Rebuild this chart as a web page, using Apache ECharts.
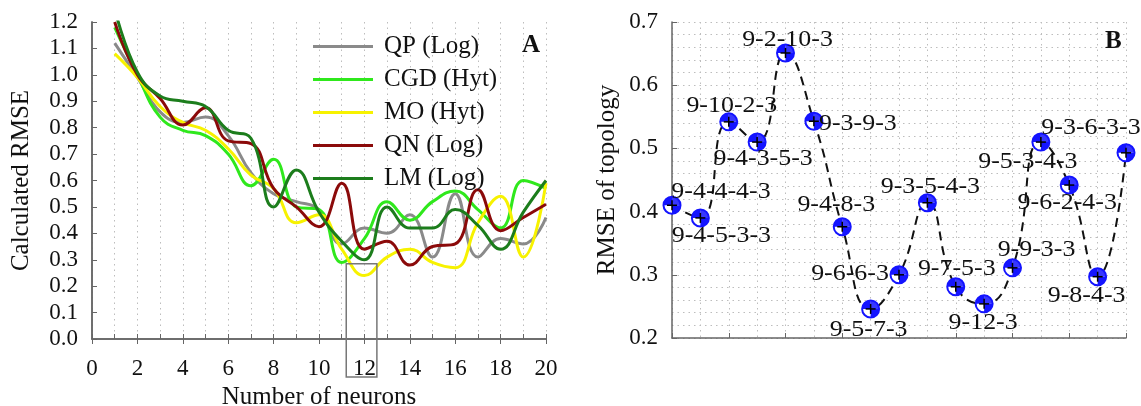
<!DOCTYPE html>
<html>
<head>
<meta charset="utf-8">
<script src="https://cdn.jsdelivr.net/npm/echarts@6/dist/echarts.min.js"></script>
<style>
html,body{margin:0;padding:0;background:#fff;}
#c{width:1141px;height:406px;}
</style>
</head>
<body>
<div id="c"></div>
<script>
// ---------- Data: panel A ----------
const neurons = [1,2,3,4,5,6,7,8,9,10,11,12,13,14,15,16,17,18,19,20];
const seriesNames = ['QP (Log)','CGD (Hyt)','MO (Hyt)','QN (Log)','LM (Log)'];
const qpLog  = [1.12,0.99,0.86,0.82,0.84,0.77,0.63,0.55,0.52,0.49,0.36,0.42,0.40,0.47,0.31,0.55,0.31,0.38,0.36,0.46];
const cgdHyt = [1.18,1.00,0.84,0.79,0.77,0.70,0.58,0.68,0.50,0.49,0.29,0.38,0.52,0.45,0.52,0.56,0.49,0.42,0.60,0.57];
const moHyt  = [1.08,0.99,0.88,0.82,0.79,0.72,0.62,0.57,0.44,0.47,0.34,0.24,0.31,0.34,0.29,0.27,0.44,0.54,0.31,0.59];
const qnLog  = [1.20,1.00,0.91,0.81,0.875,0.75,0.74,0.57,0.50,0.425,0.59,0.34,0.37,0.28,0.35,0.36,0.565,0.41,0.46,0.51];
const lmLog  = [1.25,1.01,0.92,0.90,0.88,0.79,0.76,0.50,0.64,0.48,0.37,0.30,0.50,0.42,0.42,0.49,0.43,0.34,0.48,0.60];
const xTicksA = [0,2,4,6,8,10,12,14,16,18,20];
const yTicksA = [0,0.1,0.2,0.3,0.4,0.5,0.6,0.7,0.8,0.9,1.0,1.1,1.2];
// highlighted region (neurons 11.2..12.55, below RMSE 0.285)
const boxRange = [11.2, 12.55];
const boxTop = 0.285;

// ---------- Data: panel B ----------
const topologies = ['9-4-4-4-3','9-4-5-3-3','9-10-2-3','9-4-3-5-3','9-2-10-3','9-3-9-3','9-4-8-3','9-5-7-3','9-6-6-3','9-3-5-4-3','9-7-5-3','9-12-3','9-9-3-3','9-5-3-4-3','9-6-2-4-3','9-8-4-3','9-3-6-3-3'];
const topologyRmse = [0.410,0.390,0.542,0.510,0.651,0.543,0.376,0.246,0.300,0.414,0.281,0.254,0.311,0.510,0.442,0.297,0.493];
const yTicksB = [0.2,0.3,0.4,0.5,0.6,0.7];

// ---------- Styling ----------
const FONT = "'Liberation Serif','Times New Roman',serif";
const colors = ['#8a8a8a','#2fe81c','#f7f200','#8b0a0a','#1c7d1c'];
const labelOffsets = [[49,-14],[21,18],[3,-16],[6,17],[2,-13],[44,2],[-6,-22],[-2,21],[-49,-1],[3,-16],[1,-18],[-1,19],[24,-18],[-13,20],[-2,18],[-11,19],[-35,-25]];
const BLUE = '#1414ff';

const chart = echarts.init(document.getElementById('c'), null, {renderer:'canvas'});

const seriesA = [qpLog, cgdHyt, moHyt, qnLog, lmLog].map((arr, i) => ({
  name: seriesNames[i],
  type: 'line',
  xAxisIndex: 0, yAxisIndex: 0,
  smooth: 0.45,
  symbol: 'none',
  clip: true,
  lineStyle: {width: 3, color: colors[i]},
  itemStyle: {color: colors[i]},
  data: neurons.map((n, k) => [n, arr[k]]),
  z: 3
}));

const axisTxt = {fontFamily: FONT, fontSize: 23, color: '#111'};
const gridLine = {show: true, lineStyle: {color: '#bdbdbd', type: [1.5, 4], width: 1}};

const option = {
  animation: false,
  backgroundColor: '#fff',
  title: [
    {text: 'A', left: 517, top: 28, textStyle: {fontFamily: FONT, fontSize: 25, fontWeight: 'bold', color: '#111'}},
    {text: 'B', left: 1100, top: 24, textStyle: {fontFamily: FONT, fontSize: 25, fontWeight: 'bold', color: '#111'}}
  ],
  legend: {
    data: seriesNames,
    orient: 'vertical',
    left: 308, top: 29,
    icon: 'rect',
    itemWidth: 60, itemHeight: 3,
    itemGap: 8,
    textStyle: {fontFamily: FONT, fontSize: 25, color: '#111', lineHeight: 24, padding: [0,0,0,6]},
    backgroundColor: 'transparent'
  },
  grid: [
    {left: 92, right: 595, top: 22, bottom: 67, outerBoundsMode: 'none', containLabel: false},
    {left: 672, right: 15, top: 22, bottom: 68, outerBoundsMode: 'none', containLabel: false}
  ],
  xAxis: [
    {
      type: 'value', gridIndex: 0, min: xTicksA[0], max: xTicksA[xTicksA.length-1], interval: 2,
      name: 'Number of neurons', nameLocation: 'middle', nameGap: 45,
      nameTextStyle: {fontFamily: FONT, fontSize: 25, color: '#111'},
      axisLine: {lineStyle: {color: '#666', width: 1.5}},
      axisTick: {show: true, inside: true, length: 5, lineStyle: {color: '#666'}},
      minorTick: {show: true, splitNumber: 2, length: 5, lineStyle: {color: '#666'}},
      axisLabel: Object.assign({margin: 18}, axisTxt),
      splitLine: gridLine,
      minorSplitLine: gridLine
    },
    {
      type: 'value', gridIndex: 0, position: 'top', min: 0, max: 20, interval: 2,
      axisLine: {show: true, lineStyle: {color: '#666', width: 1.5}},
      axisTick: {show: true, inside: true, length: 5, lineStyle: {color: '#666'}},
      axisLabel: {show: false}, splitLine: {show: false}
    },
    {
      type: 'category', gridIndex: 1, data: topologies, boundaryGap: false,
      axisLine: {lineStyle: {color: '#666', width: 1.5}},
      axisTick: {show: true, inside: true, length: 5, interval: 1, lineStyle: {color: '#666'}},
      axisLabel: {show: false},
      splitLine: {show: true, interval: 0, lineStyle: {color: '#bdbdbd', type: [1.5, 4], width: 1}}
    }
  ],
  yAxis: [
    {
      type: 'value', gridIndex: 0, min: yTicksA[0], max: yTicksA[yTicksA.length-1], interval: 0.1,
      name: 'Calculated RMSE', nameLocation: 'middle', nameGap: 58,
      nameTextStyle: {fontFamily: FONT, fontSize: 25, color: '#111'},
      axisLine: {show: true, lineStyle: {color: '#666', width: 1.5}},
      axisTick: {show: true, inside: true, length: 5, lineStyle: {color: '#666'}},
      axisLabel: Object.assign({margin: 14, formatter: v => v.toFixed(1)}, axisTxt),
      splitLine: {show: false}
    },
    {
      type: 'value', gridIndex: 0, position: 'right', min: 0, max: 1.2, interval: 0.1,
      axisLine: {show: true, lineStyle: {color: '#666', width: 1.5}},
      axisTick: {show: false}, axisLabel: {show: false}, splitLine: {show: false}
    },
    {
      type: 'value', gridIndex: 1, min: yTicksB[0], max: yTicksB[yTicksB.length-1], interval: 0.1,
      name: 'RMSE of topology', nameLocation: 'middle', nameGap: 52,
      nameTextStyle: {fontFamily: FONT, fontSize: 25, color: '#111'},
      axisLine: {show: true, lineStyle: {color: '#666', width: 1.5}},
      axisTick: {show: true, inside: true, length: 5, lineStyle: {color: '#666'}},
      axisLabel: Object.assign({margin: 14, formatter: v => v.toFixed(1)}, axisTxt),
      splitLine: gridLine,
      minorTick: {show: false, splitNumber: 5},
      minorSplitLine: gridLine
    }
  ],
  series: seriesA.concat([
    {
      type: 'custom', xAxisIndex: 0, yAxisIndex: 0, clip: false, silent: true, z: 5,
      data: [[boxRange[0], boxRange[1], boxTop]],
      renderItem: function (params, api) {
        const p1 = api.coord([api.value(0), api.value(2)]);
        const p2 = api.coord([api.value(1), 0]);
        return {
          type: 'rect',
          shape: {x: p1[0], y: p1[1], width: p2[0] - p1[0], height: (p2[1] - p1[1]) + 38},
          style: {fill: 'none', stroke: '#777', lineWidth: 1.5}
        };
      }
    },
    {
      name: 'topology', type: 'line', xAxisIndex: 2, yAxisIndex: 2,
      smooth: 0.5, clip: false, symbol: 'none',
      lineStyle: {color: '#111', width: 2, type: [9, 6]},
      data: topologyRmse,
      z: 3
    },
    {
      name: 'topologyMarkers', type: 'custom', xAxisIndex: 2, yAxisIndex: 2, clip: false, silent: true, z: 6,
      data: topologyRmse.map((v, i) => [i, v]),
      renderItem: function (params, api) {
        const idx = params.dataIndex;
        const c = api.coord([api.value(0), api.value(1)]);
        const r = 8.5;
        const off = labelOffsets[idx];
        return {
          type: 'group',
          children: [
            {type: 'circle', shape: {cx: c[0], cy: c[1], r: r}, style: {fill: '#fff', stroke: BLUE, lineWidth: 2}},
            {type: 'sector', shape: {cx: c[0], cy: c[1], r0: 0, r: r, startAngle: Math.PI, endAngle: Math.PI * 1.5}, style: {fill: BLUE}},
            {type: 'sector', shape: {cx: c[0], cy: c[1], r0: 0, r: r, startAngle: 0, endAngle: Math.PI * 0.5}, style: {fill: BLUE}},
            {type: 'sector', shape: {cx: c[0], cy: c[1], r0: 0, r: r, startAngle: Math.PI * 1.5, endAngle: Math.PI * 2}, style: {fill: BLUE, opacity: 0.85}},
            {type: 'line', shape: {x1: c[0] - 5, y1: c[1], x2: c[0] + 5, y2: c[1]}, style: {stroke: '#000', lineWidth: 1.5}},
            {type: 'line', shape: {x1: c[0], y1: c[1] - 5, x2: c[0], y2: c[1] + 5}, style: {stroke: '#000', lineWidth: 1.5}},
            {type: 'text', x: c[0] + off[0], y: c[1] + off[1], scaleX: 1.08,
              style: {text: topologies[idx], fontFamily: FONT, fontSize: 24, fill: '#111', align: 'center', verticalAlign: 'middle'}}
          ]
        };
      }
    }
  ])
};
chart.setOption(option);
</script>
</body>
</html>
